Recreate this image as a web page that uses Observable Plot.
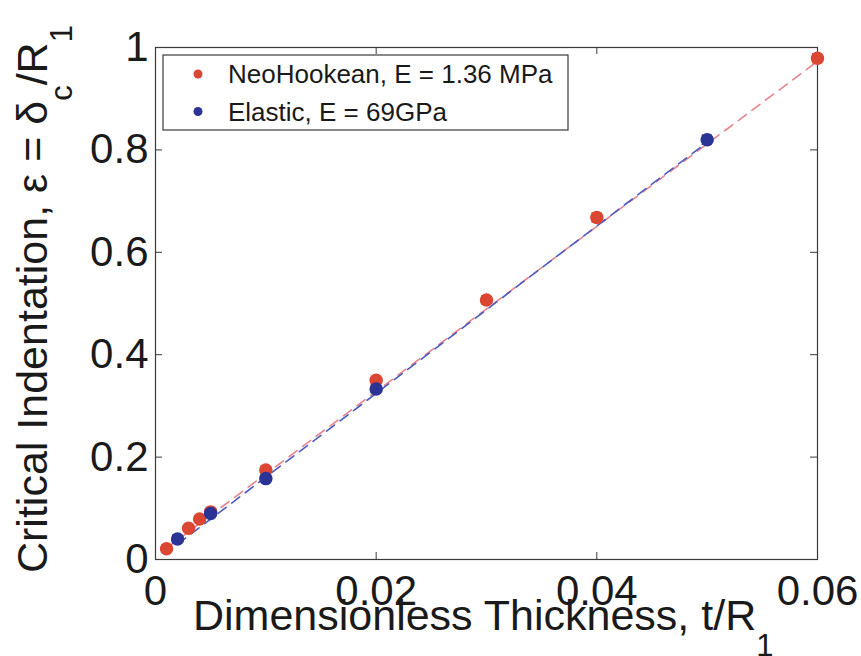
<!DOCTYPE html>
<html>
<head>
<meta charset="utf-8">
<script src="https://cdn.jsdelivr.net/npm/d3@7"></script>
<script src="https://cdn.jsdelivr.net/npm/@observablehq/plot@0.6"></script>
<style>
  html, body { margin: 0; padding: 0; background: #fff; }
  #chart { position: relative; width: 861px; height: 656px; }
</style>
</head>
<body>
<div id="chart"></div>
<script>
// ---- data ----
const xTicks = [0, 0.02, 0.04, 0.06];
const xTickLabels = ["0", "0.02", "0.04", "0.06"];
const yTicks = [0, 0.2, 0.4, 0.6, 0.8, 1];
const yTickLabels = ["0", "0.2", "0.4", "0.6", "0.8", "1"];

const seriesNames = ["NeoHookean, E = 1.36 MPa", "Elastic, E = 69GPa"];

const neoX   = [0.001, 0.003, 0.004, 0.005, 0.01, 0.02, 0.03, 0.04, 0.06];
const neoY   = [0.021, 0.061, 0.079, 0.093, 0.175, 0.350, 0.507, 0.668, 0.979];
const neoErr = [0.007, 0.006, 0.006, 0.006, 0.007, 0.008, 0.008, 0.009, 0.009];

const elX   = [0.002, 0.005, 0.01, 0.02, 0.05];
const elY   = [0.040, 0.090, 0.158, 0.333, 0.820];
const elErr = [0.008, 0.006, 0.006, 0.007, 0.009];

// dashed fit lines (end points)
const neoFitX = [0.001, 0.06];
const neoFitY = [0.022, 0.973];
const elFitX  = [0.002, 0.05];
const elFitY  = [0.030, 0.815];

// ---- build tables ----
const neo = neoX.map((x, i) => ({x, y: neoY[i], e: neoErr[i]}));
const el  = elX.map((x, i) => ({x, y: elY[i], e: elErr[i]}));
const neoFit = neoFitX.map((x, i) => ({x, y: neoFitY[i]}));
const elFit  = elFitX.map((x, i) => ({x, y: elFitY[i]}));

const RED = "#db4733", BLUE = "#2b3394";
const RED_LINE = "#e8838b", BLUE_LINE = "#4a5cc0";

const W = 861, H = 656, ML = 155, MR = 44, MT = 47, MB = 97;
const innerW = W - ML - MR, innerH = H - MT - MB;
const TK = 7;

function errMarks(data, color) {
  return [
    Plot.ruleX(data, {x: "x", y1: d => d.y - d.e, y2: d => d.y + d.e, stroke: color, strokeWidth: 1.3}),
    Plot.ruleY(data, {y: d => d.y + d.e, x1: "x", x2: "x", insetLeft: -5, insetRight: -5, stroke: color, strokeWidth: 1.3}),
    Plot.ruleY(data, {y: d => d.y - d.e, x1: "x", x2: "x", insetLeft: -5, insetRight: -5, stroke: color, strokeWidth: 1.3})
  ];
}

const svg = Plot.plot({
  width: W, height: H,
  marginLeft: ML, marginRight: MR, marginTop: MT, marginBottom: MB,
  style: {fontFamily: "'Liberation Sans', Arial, Helvetica, sans-serif", background: "#fff", color: "#1a1a1a"},
  x: {domain: [0, 0.06]},
  y: {domain: [0, 1]},
  marks: [
    Plot.frame({stroke: "#3a3a3a", strokeWidth: 1.2}),
    // inward ticks on all four sides
    Plot.tickX(xTicks, {x: d => d, insetTop: innerH - TK, stroke: "#3a3a3a"}),
    Plot.tickX(xTicks, {x: d => d, insetBottom: innerH - TK, stroke: "#3a3a3a"}),
    Plot.tickY(yTicks, {y: d => d, insetRight: innerW - TK, stroke: "#3a3a3a"}),
    Plot.tickY(yTicks, {y: d => d, insetLeft: innerW - TK, stroke: "#3a3a3a"}),
    Plot.axisX({ticks: xTicks, tickSize: 0, tickPadding: 16, fontSize: 42, label: null,
      tickFormat: d => xTickLabels[xTicks.indexOf(d)]}),
    Plot.axisY({ticks: yTicks, tickSize: 0, tickPadding: 7, fontSize: 42, label: null,
      tickFormat: d => yTickLabels[yTicks.indexOf(d)]}),
    Plot.line(neoFit, {x: "x", y: "y", stroke: RED_LINE, strokeWidth: 1.6, strokeDasharray: "10,7"}),
    Plot.line(elFit, {x: "x", y: "y", stroke: BLUE_LINE, strokeWidth: 1.6, strokeDasharray: "10,7"}),
    ...errMarks(neo, RED),
    Plot.dot(neo, {x: "x", y: "y", r: 6, fill: RED, stroke: RED}),
    ...errMarks(el, BLUE),
    Plot.dot(el, {x: "x", y: "y", r: 6, fill: BLUE, stroke: BLUE})
  ]
});

document.getElementById("chart").appendChild(svg);

// ---- axis titles with subscripts ----
const s = d3.select(svg);
const FONT = "'Liberation Sans', Arial, Helvetica, sans-serif";

const xl = s.append("text")
  .attr("x", 193).attr("y", 630).attr("text-anchor", "start")
  .attr("font-family", FONT).attr("font-size", 43).attr("fill", "#1a1a1a");
xl.append("tspan").text("Dimensionless Thickness, t/R");
xl.append("tspan").attr("font-size", 31).attr("dy", 26).text("1");

const yl = s.append("text")
  .attr("transform", "translate(47,573) rotate(-90)").attr("text-anchor", "start")
  .attr("font-family", FONT).attr("font-size", 43).attr("fill", "#1a1a1a");
yl.append("tspan").text("Critical Indentation, ε = δ");
yl.append("tspan").attr("font-size", 31).attr("dy", 25).text("c");
yl.append("tspan").attr("dy", -25).text("/R");
yl.append("tspan").attr("font-size", 31).attr("dy", 25).text("1");

// ---- legend ----
const lg = s.append("g");
lg.append("rect").attr("x", 163).attr("y", 55).attr("width", 405).attr("height", 75)
  .attr("fill", "#fff").attr("stroke", "#3a3a3a").attr("stroke-width", 1.2);
const legendColors = [RED, BLUE];
seriesNames.forEach((name, i) => {
  const cy = 74 + i * 37.5;
  lg.append("circle").attr("cx", 198).attr("cy", cy).attr("r", 4.5).attr("fill", legendColors[i]);
  lg.append("text").attr("x", 228).attr("y", cy + 9.3).attr("text-anchor", "start")
    .attr("font-family", FONT).attr("font-size", 26).attr("fill", "#1a1a1a").text(name);
});
</script>
</body>
</html>
